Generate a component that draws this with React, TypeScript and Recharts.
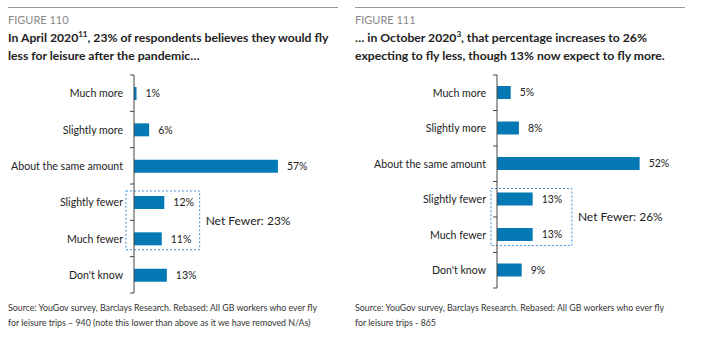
import React from "react";
import { Bar, BarChart, LabelList, ReferenceArea, XAxis, YAxis } from "recharts";

const categories = [
  "Much more",
  "Slightly more",
  "About the same amount",
  "Slightly fewer",
  "Much fewer",
  "Don't know",
];
const aprilValues = [1, 6, 57, 12, 11, 13];
const octoberValues = [5, 8, 52, 13, 13, 9];

const BLUE = "#0479b4";
const BOX = "#3f8fd8";
const TEXT = "#222";
const FONT = "Lato, 'Open Sans', sans-serif";
const TICK_GAP = 11;
const CHART_H = 300;
const TOP = 75;

function CategoryTick(props: any) {
  const { x, y, payload, last, half } = props;
  const ax = x + TICK_GAP;
  return (
    <g>
      <line x1={ax - 4} x2={ax} y1={y - half} y2={y - half} stroke="#444" />
      {payload.index === last && (
        <line x1={ax - 4} x2={ax} y1={y + half} y2={y + half} stroke="#444" />
      )}
      <text x={x} y={y} dy={4} textAnchor="end" fontSize={10.6} fill={TEXT} fontFamily={FONT}>
        {payload.value}
      </text>
    </g>
  );
}

function DashedBox(props: any) {
  const { x, y, width, height } = props;
  return (
    <rect
      x={x}
      y={y + 7}
      width={width}
      height={height - 14}
      fill="none"
      stroke={BOX}
      strokeDasharray="2 2"
    />
  );
}

type PanelProps = {
  values: number[];
  yWidth: number;
  width: number;
  xMax: number;
  marginBottom: number;
  boxX: [number, number];
  net: string;
};

function Panel({ values, yWidth, width, xMax, marginBottom, boxX, net }: PanelProps) {
  const data = categories.map((c, i) => ({ category: c, value: values[i] }));
  const half = (CHART_H - TOP - marginBottom) / categories.length / 2;
  return (
    <BarChart
      width={width}
      height={CHART_H}
      data={data}
      layout="vertical"
      margin={{ top: TOP, right: 18, bottom: marginBottom, left: 0 }}
      barCategoryGap={0}
    >
      <XAxis type="number" domain={[0, xMax]} hide />
      <YAxis
        type="category"
        dataKey="category"
        width={yWidth}
        axisLine={{ stroke: "#444" }}
        tickLine={false}
        tickSize={0}
        tickMargin={TICK_GAP}
        interval={0}
        tick={<CategoryTick last={categories.length - 1} half={half} />}
      />
      <ReferenceArea
        x1={boxX[0]}
        x2={boxX[1]}
        y1="Slightly fewer"
        y2="Much fewer"
        ifOverflow="visible"
        shape={<DashedBox />}
        label={{ value: net, position: "right", offset: 6, fontSize: 12, fill: TEXT, fontFamily: FONT }}
      />
      <Bar dataKey="value" fill={BLUE} barSize={13} isAnimationActive={false}>
        <LabelList
          dataKey="value"
          position="right"
          offset={9}
          formatter={(v: any) => `${v}%`}
          style={{ fontSize: 10.5, fill: TEXT, fontFamily: FONT }}
        />
      </Bar>
    </BarChart>
  );
}

function Header({ left, figure, children }: any) {
  return (
    <>
      <div
        style={{ position: "absolute", left, top: 13, fontSize: 11, lineHeight: "14px", color: "#888", fontFamily: FONT }}
      >
        {figure}
      </div>
      <div
        style={{
          position: "absolute",
          left,
          top: 29,
          fontSize: 12.2,
          lineHeight: "18px",
          fontWeight: 700,
          color: TEXT,
          fontFamily: FONT,
          whiteSpace: "nowrap",
        }}
      >
        {children}
      </div>
    </>
  );
}

function Rule({ left, width }: { left: number; width: number }) {
  return (
    <div
      style={{ position: "absolute", left, top: 7, width, height: 1, background: "#999", zIndex: 5 }}
    />
  );
}

function Footer({ left, children }: any) {
  return (
    <div
      style={{
        position: "absolute",
        left,
        top: 300,
        fontSize: 8.8,
        lineHeight: "15px",
        color: "#333",
        fontFamily: FONT,
        whiteSpace: "nowrap",
      }}
    >
      {children}
    </div>
  );
}

const sup: React.CSSProperties = { fontSize: 8, verticalAlign: "super", lineHeight: 0 };

export default function App() {
  return (
    <div style={{ position: "fixed", left: 0, top: 0, width: 707, height: 340, background: "#fff", overflow: "hidden" }}>
      <Header left={8} figure="FIGURE 110">
        In April 2020<span style={sup}>11</span>, 23% of respondents believes they would fly
        <br />
        less for leisure after the pandemic…
      </Header>
      <Header left={355} figure="FIGURE 111">
        … in October 2020<span style={sup}>3</span>, that percentage increases to 26%
        <br />
        expecting to fly less, though 13% now expect to fly more.
      </Header>
      <div style={{ position: "absolute", left: 0, top: 0 }}>
        <Panel values={aprilValues} yWidth={134} width={354} xMax={80} marginBottom={7} boxX={[-3.2, 26]} net="Net Fewer: 23%" />
      </div>
      <div style={{ position: "absolute", left: 354, top: 0 }}>
        <Panel values={octoberValues} yWidth={143} width={353} xMax={70} marginBottom={12} boxX={[-2.2, 27.3]} net="Net Fewer: 26%" />
      </div>
      <Footer left={8}>
        Source: YouGov survey, Barclays Research. Rebased: All GB workers who ever fly
        <br />
        for leisure trips – 940 (note this lower than above as it we have removed N/As)
      </Footer>
      <Footer left={355}>
        Source: YouGov survey, Barclays Research. Rebased: All GB workers who ever fly
        <br />
        for leisure trips - 865
      </Footer>
      <Rule left={8} width={330} />
      <Rule left={355} width={330} />
    </div>
  );
}
